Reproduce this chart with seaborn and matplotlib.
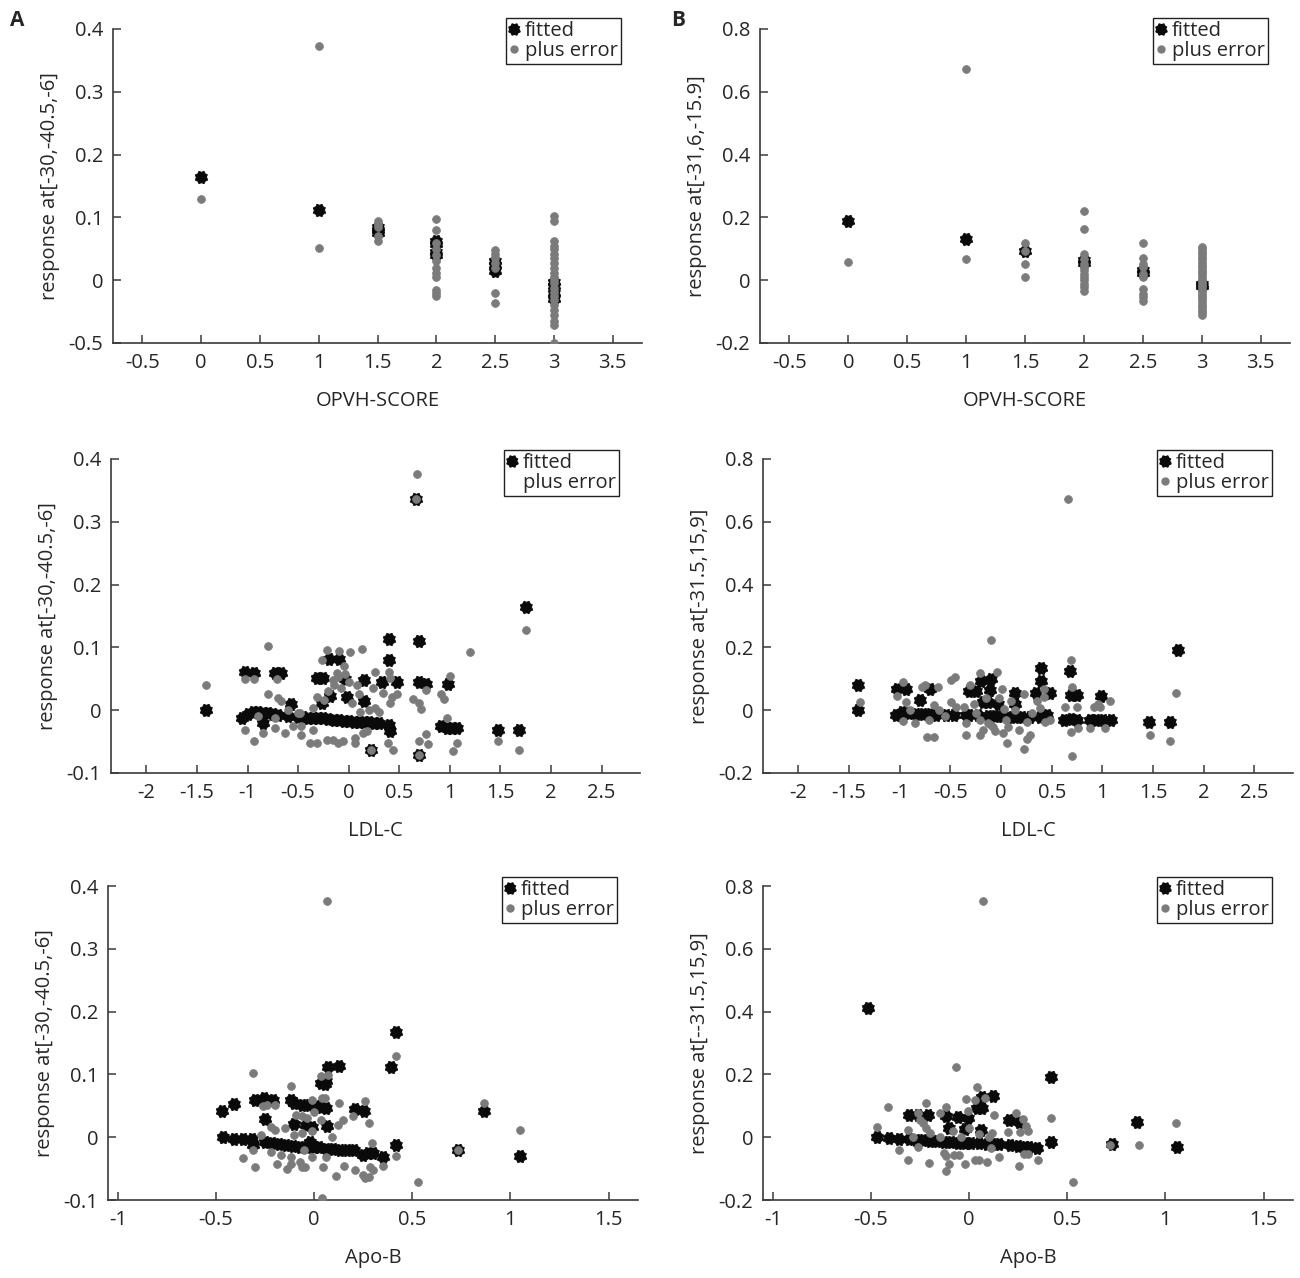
import numpy as np
import pandas as pd
import matplotlib
matplotlib.use("Agg")
import matplotlib.pyplot as plt
from matplotlib.lines import Line2D
import seaborn as sns

sns.set_theme(style="white")
plt.rcParams['font.family'] = ['Open Sans', 'DejaVu Sans']

# ---------------- data ----------------
# Panel A, OPVH-SCORE
a1_fit_x = [0, 1, 1.5, 1.5, 1.5, 2, 2, 2, 2, 2.5, 2.5, 2.5, 3, 3, 3, 3]
a1_fit_y = [0.165, 0.112, 0.085, 0.080, 0.075, 0.062, 0.058, 0.045, 0.040,
            0.030, 0.025, 0.015, -0.003, -0.010, -0.020, -0.030]
a1_err_x = ([0] + [1] * 2 + [1.5] * 5 + [2] * 12 + [2.5] * 7 + [3] * 23)
a1_err_y = [0.13,
            0.373, 0.052,
            0.095, 0.090, 0.085, 0.070, 0.063,
            0.098, 0.080, 0.060, 0.050, 0.040, 0.030, 0.020, 0.012, 0.005, -0.015, -0.020, -0.025,
            0.048, 0.042, 0.035, 0.028, 0.020, -0.020, -0.037,
            0.102, 0.095, 0.062, 0.055, 0.050, 0.042, 0.035, 0.028, 0.020, 0.012, 0.005, 0.0,
            -0.005, -0.012, -0.018, -0.025, -0.032, -0.040, -0.048, -0.055, -0.065, -0.072, -0.100]

# Panel B, OPVH-SCORE
b1_fit_x = [0, 1, 1.5, 2, 2, 2.5, 2.5, 3, 3]
b1_fit_y = [0.19, 0.13, 0.092, 0.063, 0.055, 0.031, 0.022, -0.012, -0.020]
b1_err_x = ([0] + [1] * 2 + [1.5] * 4 + [2] * 13 + [2.5] * 10 + [3] * 28)
b1_err_y = [0.057,
            0.673, 0.067,
            0.119, 0.092, 0.051, 0.010,
            0.219, 0.162, 0.082, 0.068, 0.052, 0.041, 0.031, 0.020, 0.010, 0.0, -0.012, -0.022, -0.033,
            0.119, 0.070, 0.052, 0.041, 0.020, 0.010, -0.028, -0.044, -0.054, -0.065,
            0.105, 0.098, 0.091, 0.082, 0.074, 0.067, 0.058, 0.050, 0.043, 0.034, 0.026, 0.019,
            0.010, 0.002, -0.006, -0.014, -0.021, -0.030, -0.038, -0.046, -0.054, -0.061,
            -0.070, -0.078, -0.086, -0.094, -0.102, -0.110]

# Panel A, LDL-C
a2_fit_x = [-1.41, -1.03, -0.94, -0.73, -0.67,
            -1.05, -1.00, -0.95, -0.90, -0.85, -0.80, -0.75, -0.70, -0.60, -0.50, -0.45, -0.40,
            -0.35, -0.30, -0.25, -0.20, -0.15, -0.10, -0.05, 0.00, 0.05, 0.10, 0.15, 0.20, 0.25, 0.30,
            -0.85, -0.57, -0.31, -0.25, -0.195, -0.10, -0.18, -0.26, -0.035, -0.02, 0.15, 0.15,
            0.33, 0.40, 0.40, 0.48, 0.40, 0.41, 0.668, 0.696, 0.70, 0.76, 0.70, 0.985,
            0.91, 0.97, 1.02, 1.07, 1.48, 1.68, 1.75, 0.22]
a2_fit_y = [0.000, 0.061, 0.060, 0.060, 0.060,
            -0.012, -0.006, -0.003, -0.003, -0.004, -0.005, -0.006, -0.007, -0.009, -0.011, -0.011, -0.012,
            -0.012, -0.013, -0.013, -0.014, -0.015, -0.016, -0.017, -0.017, -0.018, -0.018, -0.019, -0.019, -0.020, -0.020,
            -0.020, 0.010, 0.052, 0.052, 0.082, 0.082, 0.022, 0.011, 0.050, 0.021, 0.048, 0.014,
            0.045, 0.114, 0.080, 0.045, -0.024, -0.033, 0.336, 0.110, 0.045, 0.042, -0.072, 0.041,
            -0.025, -0.029, -0.029, -0.029, -0.032, -0.032, 0.165, -0.063]
a2_err_x = [-1.41, -1.03, -0.94, -1.03, -0.94, -0.80, -0.80, -0.85, -0.73, -0.73, -0.71, -0.67,
            -0.63, -0.55, -0.47, -0.47, -0.48, -0.38, -0.31, -0.35, -0.35, -0.26, -0.21, -0.10,
            0.01, 0.13, -0.31, -0.24, -0.21, -0.16, -0.11, -0.06, -0.16, -0.11, -0.04, -0.08,
            0.03, 0.06, 0.06, 0.11, 0.14, 0.18, 0.24, 0.26, 0.26, 0.30, 0.34, 0.40, 0.41, 0.41,
            0.43, 0.48, 0.39, 0.44, 0.64, 0.70, 0.71, 0.68, 0.70, 0.76, 0.78, 0.76, 0.915, 0.94,
            0.97, 1.00, 1.03, 1.07, 1.20, 1.48, 1.68, 1.75, 0.668, 0.70, 0.22,
            -0.50, -0.20, -0.15, -0.05, 0.00, -0.12, 0.08, 0.20, -0.60, -0.90, -0.70, 0.10]
a2_err_y = [0.040, 0.049, 0.049, -0.032, -0.049, 0.102, 0.025, -0.036, -0.013, -0.029, 0.050, 0.014,
            -0.036, -0.025, -0.025, -0.039, -0.004, -0.052, -0.052, 0.003, -0.032, 0.080, 0.096, 0.094,
            0.093, 0.097, 0.021, 0.017, -0.047, -0.047, -0.053, -0.049, 0.048, 0.053, 0.058, 0.035,
            0.011, -0.045, -0.053, -0.003, -0.036, -0.033, 0.035, 0.061, 0.003, -0.003, 0.028, 0.061, 0.052, 0.011,
            0.021, 0.025, -0.052, -0.063, 0.018, 0.012, 0.002, 0.376, -0.049, -0.038, -0.054, 0.032, 0.025, 0.018,
            -0.012, 0.055, -0.065, -0.052, 0.093, -0.049, -0.063, 0.128, 0.336, -0.072, -0.063,
            -0.005, 0.030, 0.040, 0.070, 0.045, 0.060, 0.040, 0.000, 0.000, -0.010, 0.020, 0.025]

# Panel B, LDL-C
b2_fit_x = [-1.41, -1.41, -1.03, -0.94,
            -1.04, -0.98, -0.91, -0.84, -0.77, -0.70, -0.64, -0.54, -0.47, -0.35, -0.32, -0.23,
            -0.13, -0.06, 0.01, 0.07, 0.14, 0.21, 0.28, 0.38, 0.45, 0.62, 0.69, 0.75, 0.88, 0.94, 1.01, 1.08,
            -0.80, -0.70, -0.32, -0.25, -0.20, -0.10, -0.11, -0.18, -0.13, -0.03, 0.14, 0.14,
            0.34, 0.39, 0.39, 0.48, 0.68, 0.69, 0.75, 0.99, 1.46, 1.67, 1.745]
b2_fit_y = [0.080, 0.000, 0.069, 0.069,
            -0.016, -0.005, -0.008, -0.011, -0.011, -0.013, -0.016, -0.016, -0.016, -0.016, -0.016, -0.016,
            -0.019, -0.019, -0.019, -0.021, -0.021, -0.021, -0.023, -0.021, -0.016, -0.030, -0.027, -0.030,
            -0.032, -0.032, -0.032, -0.032,
            0.032, 0.069, 0.062, 0.062, 0.093, 0.098, 0.064, 0.027, 0.027, 0.021, 0.055, 0.019,
            0.055, 0.133, 0.093, 0.055, 0.125, 0.048, 0.048, 0.045, -0.037, -0.037, 0.191]
b2_err_x = [-1.39, -1.03, -0.97, -0.97, -0.94, -0.85, -0.78, -0.75, -0.73, -0.66, -0.71, -0.66,
            -0.62, -0.61, -0.49, -0.46, -0.49, -0.37, -0.35, -0.35, -0.31, -0.27, -0.21, -0.21,
            -0.21, -0.18, -0.10, -0.04, -0.13, -0.10, -0.08, -0.06, 0.01, 0.02, 0.06, 0.07, 0.05,
            0.03, 0.14, 0.18, 0.23, 0.23, 0.26, 0.28, 0.26, 0.35, 0.38, 0.42, 0.42, 0.43, 0.48,
            0.63, 0.66, 0.69, 0.70, 0.69, 0.70, 0.75, 0.76, 0.88, 0.92, 0.96, 0.98, 1.02, 1.07,
            1.47, 1.67, 1.73, -0.90, -0.55, -0.15, -0.25, 0.10, -0.02, 0.30, -0.45]
b2_err_y = [0.027, 0.045, 0.090, -0.035, 0.027, -0.042, 0.074, 0.080, -0.085, -0.085, -0.030, 0.016,
            0.074, 0.000, 0.096, 0.106, 0.027, 0.011, -0.042, -0.078, 0.080, 0.021, 0.120, -0.030,
            -0.078, -0.064, 0.223, 0.122, -0.040, -0.048, -0.055, -0.066, 0.069, -0.074, -0.106, -0.053, -0.030,
            0.005, 0.000, -0.064, 0.051, -0.125, -0.092, -0.078, -0.037, 0.029, 0.008, 0.066, 0.042, -0.037, -0.032,
            0.011, 0.672, 0.159, 0.074, -0.069, -0.147, 0.011, -0.058, -0.058, 0.011, 0.021, 0.011, -0.058, 0.029,
            -0.078, -0.099, 0.056, 0.000, -0.020, 0.040, -0.010, 0.030, 0.040, -0.010, 0.010]

# Panel A, Apo-B
a3_fit_x = [-0.47, -0.41, -0.465, -0.41, -0.36, -0.315, -0.31, -0.30, -0.255, -0.21, -0.25, -0.12,
            -0.10, -0.06, -0.027, 0.009, 0.036, 0.063,
            -0.10, -0.04, -0.01, 0.066, 0.035, 0.054, 0.063, 0.07, 0.125, 0.206, 0.256, 0.39,
            0.415, 0.415, 0.733, 0.864, 1.05,
            -0.25, -0.215, -0.179, -0.143, -0.107, -0.072, -0.036, 0.0, 0.027, 0.063, 0.098,
            0.134, 0.17, 0.202, 0.25, 0.277, 0.299, 0.349, -0.02]
a3_fit_y = [0.042, 0.053, 0.000, -0.003, -0.003, -0.003, -0.012, 0.059, 0.062, 0.059, 0.029, 0.059,
            0.054, 0.052, 0.051, 0.049, 0.048, 0.047,
            0.021, 0.020, 0.017, 0.018, 0.086, 0.084, 0.090, 0.112, 0.114, 0.045, 0.042, 0.111,
            0.167, -0.012, -0.020, 0.042, -0.030,
            -0.007, -0.010, -0.011, -0.012, -0.014, -0.015, -0.015, -0.016, -0.016, -0.018, -0.019,
            -0.020, -0.021, -0.020, -0.028, -0.025, -0.025, -0.031, -0.007]
a3_err_x = [-0.31, -0.116, -0.01, 0.036, 0.072, 0.04, 0.055, 0.125, 0.26, 0.28, 0.20, 0.147,
            0.12, 0.036, 0.09, -0.01, -0.06, -0.10, -0.09, -0.06, -0.036, -0.26, -0.24, -0.20,
            -0.27, -0.22, -0.20, -0.36, -0.31, -0.30, -0.22, -0.19, -0.17, -0.14, -0.116, -0.116,
            -0.072, -0.063, -0.048, -0.01, 0.045, 0.063, 0.113, 0.152, 0.206, 0.25, 0.26, 0.28,
            0.286, 0.30, 0.295, 0.35, 0.417, 0.417, 0.528, 0.864, 1.05, 0.068, 0.04, 0.733,
            -0.15, -0.05, 0.0]
a3_err_y = [0.103, 0.081, 0.059, 0.098, 0.099, 0.062, 0.062, 0.054, 0.058, 0.022, 0.034, 0.028,
            0.020, 0.028, 0.000, 0.010, 0.006, 0.004, 0.035, 0.033, 0.030, 0.049, 0.051, 0.051,
            0.004, 0.017, 0.012, -0.033, -0.020, -0.048, -0.023, -0.043, -0.028, -0.051, -0.031, -0.043,
            -0.039, -0.048, -0.048, -0.031, -0.047, -0.032, -0.061, -0.046, -0.052, -0.060, -0.065, -0.064,
            -0.047, -0.052, -0.010, -0.046, -0.030, 0.130, -0.072, 0.054, 0.011, 0.376, -0.097, -0.020,
            0.015, -0.020, 0.040]

# Panel B, Apo-B
b3_fit_x = [-0.516, -0.468, -0.41, -0.357, -0.304, -0.269, -0.308, -0.26, -0.208, -0.12, -0.058,
            -0.005, -0.102, -0.023, 0.039, 0.065, 0.065, 0.123, 0.060, 0.203, 0.255, 0.417, 0.417,
            0.729, 0.857, 1.06,
            -0.234, -0.199, -0.164, -0.129, -0.093, -0.058, -0.023, 0.012, 0.048, 0.092, 0.118,
            0.153, 0.206, 0.25, 0.285, 0.303, 0.347]
b3_fit_y = [0.412, 0.002, -0.001, -0.006, -0.006, -0.008, 0.071, 0.071, 0.071, 0.068, 0.064,
            0.060, 0.029, 0.025, 0.092, 0.094, 0.129, 0.132, 0.023, 0.055, 0.050, 0.193, -0.016,
            -0.021, 0.048, -0.032,
            -0.008, -0.011, -0.013, -0.014, -0.016, -0.017, -0.017, -0.019, -0.019, -0.021, -0.021,
            -0.022, -0.024, -0.028, -0.030, -0.030, -0.035]
b3_err_x = [-0.414, -0.468, -0.357, -0.313, -0.313, -0.287, -0.26, -0.26, -0.222, -0.234, -0.22,
            -0.199, -0.248, -0.204, -0.146, -0.12, -0.067, -0.129, -0.116, -0.102, -0.116, -0.076,
            -0.05, -0.023, -0.014, -0.005, 0.039, 0.030, 0.079, 0.030, 0.048, 0.092, 0.109, 0.127,
            0.118, 0.153, 0.20, 0.241, 0.255, 0.257, 0.276, 0.29, 0.30, 0.28, 0.30, 0.35, 0.417,
            0.528, 0.863, 0.72, 1.056, 0.069, -0.04, 0.0, 0.05, -0.15, 0.1, -0.08]
b3_err_y = [0.095, 0.034, -0.040, -0.072, 0.023, 0.002, -0.030, 0.078, 0.108, 0.044, 0.029,
            0.013, 0.055, -0.083, 0.078, 0.097, 0.225, -0.050, -0.061, -0.086, -0.108, -0.056,
            -0.056, -0.086, 0.121, 0.082, 0.161, 0.118, 0.124, -0.072, -0.072, -0.080, -0.035, 0.071,
            0.013, -0.064, 0.018, 0.078, -0.093, 0.018, 0.057, 0.036, 0.020, -0.053, -0.053, -0.072, 0.060,
            -0.143, -0.024, -0.024, 0.044, 0.751, 0.000, 0.030, 0.010, 0.000, 0.000, 0.020]

ylab_a = "response at[-30,-40.5,-6]"
panels = [
    (a1_fit_x, a1_fit_y, a1_err_x, a1_err_y, "OPVH-SCORE", ylab_a,
     (-0.75, 3.75), (-0.1, 0.4), [-0.5, 0, 0.5, 1, 1.5, 2, 2.5, 3, 3.5],
     [-0.1, 0, 0.1, 0.2, 0.3, 0.4], ["-0.5", "0", "0.1", "0.2", "0.3", "0.4"], True),
    (b1_fit_x, b1_fit_y, b1_err_x, b1_err_y, "OPVH-SCORE", "response at[-31,6,-15.9]",
     (-0.75, 3.75), (-0.2, 0.8), [-0.5, 0, 0.5, 1, 1.5, 2, 2.5, 3, 3.5],
     [-0.2, 0, 0.2, 0.4, 0.6, 0.8], ["-0.2", "0", "0.2", "0.4", "0.6", "0.8"], True),
    (a2_fit_x, a2_fit_y, a2_err_x, a2_err_y, "LDL-C", ylab_a,
     (-2.35, 2.88), (-0.1, 0.4), [-2, -1.5, -1, -0.5, 0, 0.5, 1, 1.5, 2, 2.5],
     [-0.1, 0, 0.1, 0.2, 0.3, 0.4], ["-0.1", "0", "0.1", "0.2", "0.3", "0.4"], False),
    (b2_fit_x, b2_fit_y, b2_err_x, b2_err_y, "LDL-C", "response at[-31.5,15,9]",
     (-2.35, 2.88), (-0.2, 0.8), [-2, -1.5, -1, -0.5, 0, 0.5, 1, 1.5, 2, 2.5],
     [-0.2, 0, 0.2, 0.4, 0.6, 0.8], ["-0.2", "0", "0.2", "0.4", "0.6", "0.8"], True),
    (a3_fit_x, a3_fit_y, a3_err_x, a3_err_y, "Apo-B", ylab_a,
     (-1.05, 1.65), (-0.1, 0.4), [-1, -0.5, 0, 0.5, 1, 1.5],
     [-0.1, 0, 0.1, 0.2, 0.3, 0.4], ["-0.1", "0", "0.1", "0.2", "0.3", "0.4"], True),
    (b3_fit_x, b3_fit_y, b3_err_x, b3_err_y, "Apo-B", "response at[--31.5,15,9]",
     (-1.05, 1.65), (-0.2, 0.8), [-1, -0.5, 0, 0.5, 1, 1.5],
     [-0.2, 0, 0.2, 0.4, 0.6, 0.8], ["-0.2", "0", "0.2", "0.4", "0.6", "0.8"], True),
]

# ---------------- layout (pixels) ----------------
W, H = 1300, 1278
boxes = [(113, 642, 29, 343), (760, 1290, 29, 343),
         (111, 640, 459, 773), (763, 1293, 459, 773),
         (108, 638, 886, 1200), (763, 1293, 886, 1200)]
legend_corner = [(621, 18), (1268, 18), (619, 450), (1272, 450), (617, 877), (1272, 877)]

fig = plt.figure(figsize=(W / 100, H / 100), dpi=100)
fig.patch.set_facecolor("white")

# 8-point star marker (filled, short spikes) for fitted values
ang = np.linspace(0, 2 * np.pi, 17)[:-1] + np.pi / 8
rad = np.where(np.arange(16) % 2 == 0, 1.0, 0.78)
star = np.column_stack([rad * np.cos(ang), rad * np.sin(ang)])

FS = 14.5
GRAY = "#7b7b7b"
for i, (fx, fy, ex, ey, xl, yl, xlim, ylim, xt, yt, ytl, second_marker) in enumerate(panels):
    l, r, t, b = boxes[i]
    ax = fig.add_axes([l / W, 1 - b / H, (r - l) / W, (b - t) / H])
    ax.set_facecolor("white")
    sns.scatterplot(x=fx, y=fy, ax=ax, marker=star, color="#0a0a0a", s=80,
                    edgecolor="#0a0a0a", linewidth=0.6, zorder=3, legend=False)
    sns.scatterplot(x=ex, y=ey, ax=ax, marker="o", color=GRAY, s=32,
                    edgecolor=GRAY, linewidth=0.5, zorder=4, legend=False)
    ax.set_xlim(*xlim)
    ax.set_ylim(*ylim)
    ax.set_xticks(xt)
    ax.set_xticklabels([("%g" % v) for v in xt])
    ax.set_yticks(yt)
    ax.set_yticklabels(ytl)
    for side in ["top", "right"]:
        ax.spines[side].set_visible(False)
    for side in ["left", "bottom"]:
        ax.spines[side].set_color("#3a3a3a")
        ax.spines[side].set_linewidth(1.2)
    ax.tick_params(direction="in", length=6, width=1.1, color="#3a3a3a",
                   labelsize=FS, pad=7, bottom=True, left=True)
    ax.set_xlabel(xl, fontsize=FS, labelpad=13)
    ax.set_ylabel(yl, fontsize=FS, labelpad=6)
    ax.grid(False)

    h1 = Line2D([], [], linestyle="none", marker=star, markersize=8, color="#0a0a0a")
    if second_marker:
        h2 = Line2D([], [], linestyle="none", marker="o", markersize=5, color=GRAY)
    else:
        h2 = Line2D([], [], linestyle="none", marker="", color="none")
    lx, ly = legend_corner[i]
    leg = ax.legend([h1, h2], ["fitted", "plus error"], loc="upper right",
                    bbox_to_anchor=(lx / W, 1 - ly / H), bbox_transform=fig.transFigure,
                    borderaxespad=0, fontsize=FS, frameon=True, fancybox=False,
                    handlelength=0.5, handletextpad=0.3, borderpad=0.15,
                    labelspacing=0.0, framealpha=1)
    leg.get_frame().set_edgecolor("#222222")
    leg.get_frame().set_linewidth(1.0)

fig.text(17 / W, 1 - 20 / H, "A", fontsize=15, fontweight="bold", ha="center", va="center")
fig.text(678 / W, 1 - 20 / H, "B", fontsize=15, fontweight="bold", ha="center", va="center")

fig.savefig("out.png", dpi=100, facecolor="white")
